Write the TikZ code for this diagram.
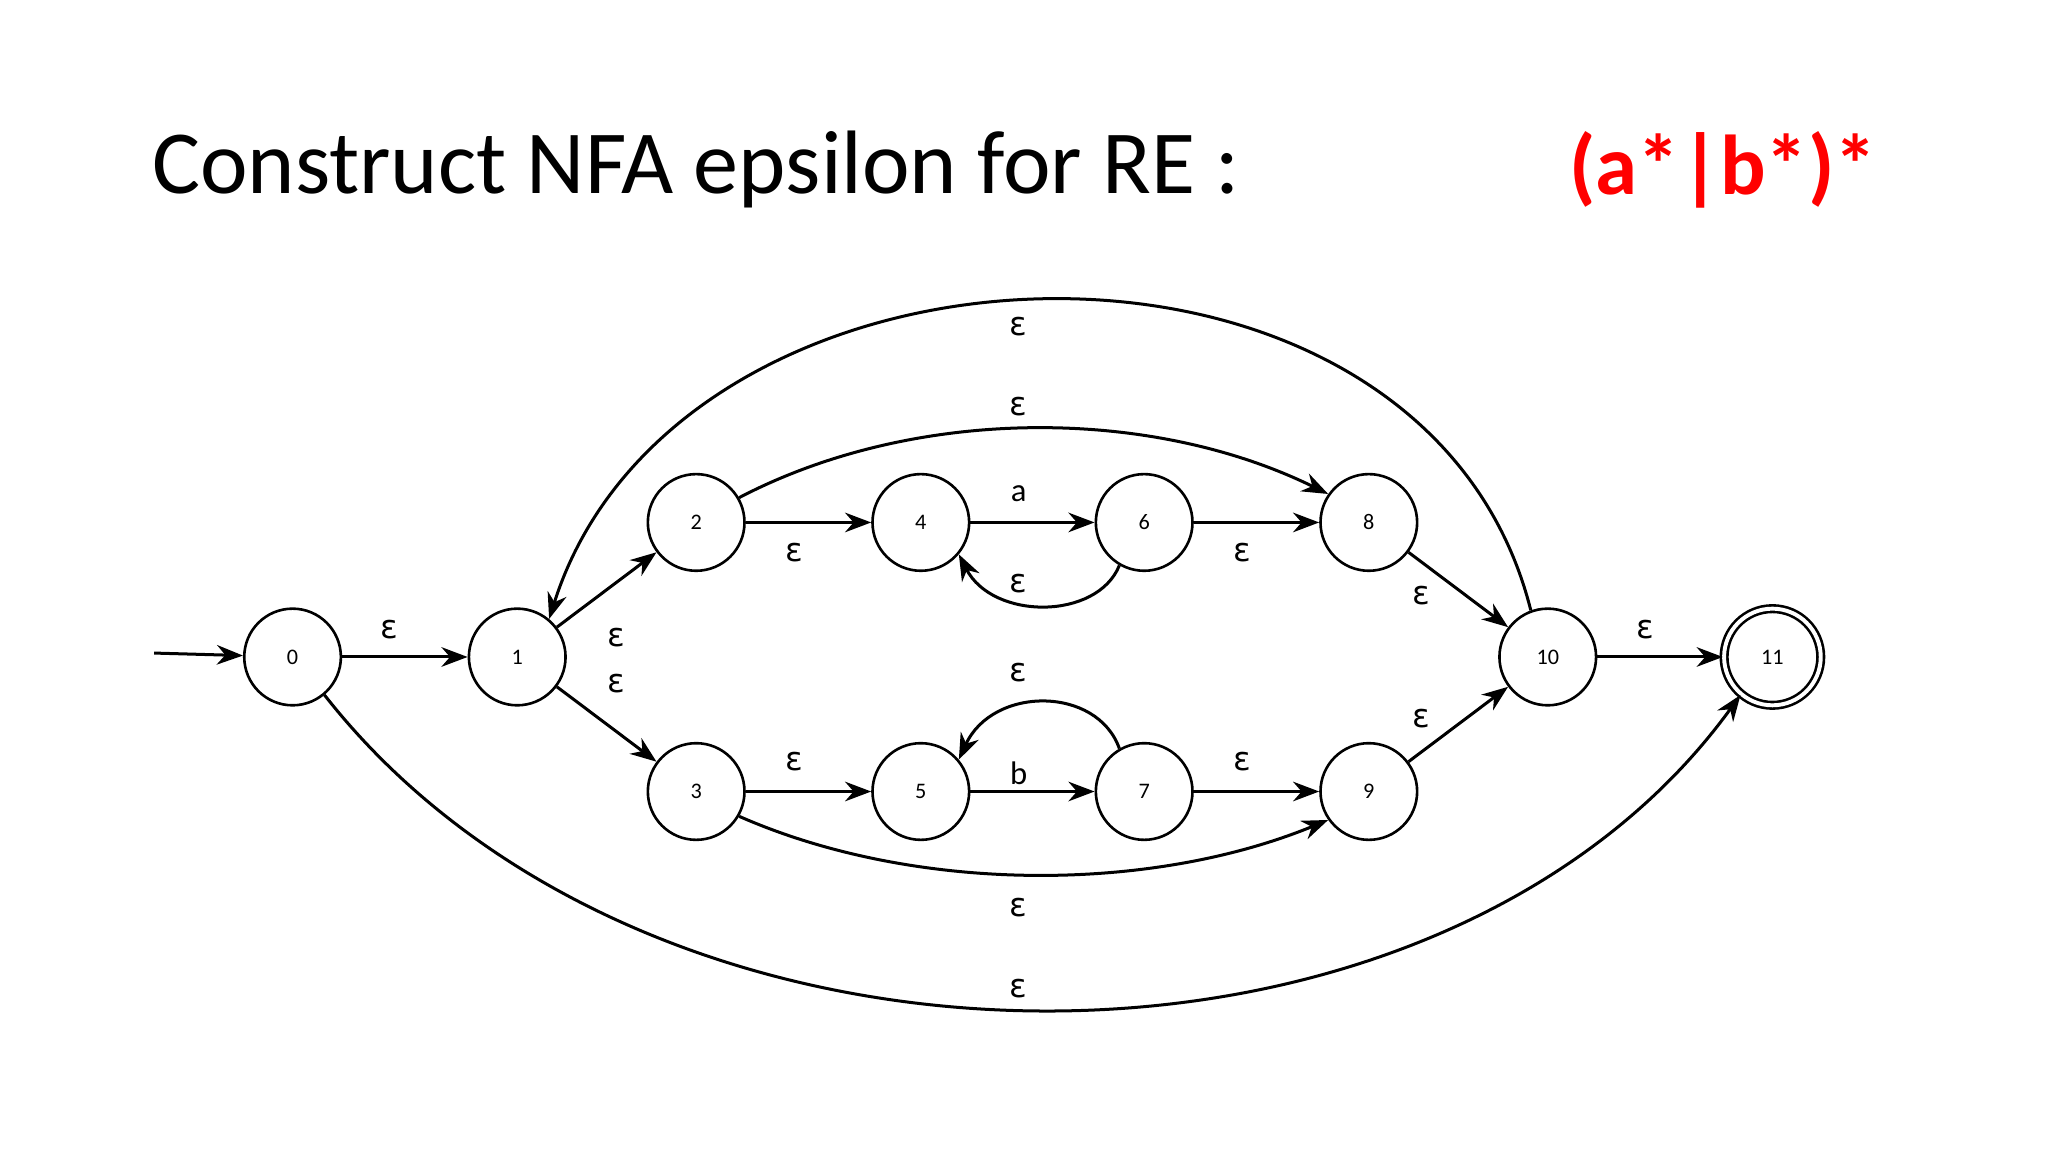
\documentclass[tikz,border=0pt]{standalone}
\usepackage{fontspec}
\setmainfont{Carlito}
\newfontfamily\epsf{DejaVu Sans}
\usetikzlibrary{arrows.meta}
\begin{document}
\begin{tikzpicture}[x=1pt,y=-1pt,
  st/.style={circle,draw,line width=2pt,minimum size=74pt,inner sep=0pt,font=\fontsize{17}{17}\selectfont},
  ed/.style={line width=2.3pt,-{Stealth[length=20pt,width=15pt]}},
  lb/.style={font=\fontsize{25}{25}\selectfont}]
\useasboundingbox (0,0) rectangle (1568,882);
\node[anchor=west,font=\fontsize{69}{69}\selectfont] (title) at (113,130) {Construct NFA epsilon for RE :};
\node[anchor=west,font=\bfseries\fontsize{65}{65}\selectfont,text=red] (re) at (1198,130) {(a*|b*)*};
\node[st] (n0) at (224,503) {0};
\node[st] (n1) at (396,503) {1};
\node[st] (n2) at (533,400) {2};
\node[st] (n4) at (705,400) {4};
\node[st] (n6) at (876,400) {6};
\node[st] (n8) at (1048,400) {8};
\node[st] (n3) at (533,606) {3};
\node[st] (n5) at (705,606) {5};
\node[st] (n7) at (876,606) {7};
\node[st] (n9) at (1048,606) {9};
\node[st] (n10) at (1185,503) {10};
\node[st,double,double distance=3pt] (n11) at (1357,503) {11};
\coordinate (s) at (118,500);
\draw[ed] (s) -- (n0);
\draw[ed] (n0) -- (n1);
\draw[ed] (n1) -- (n2);
\draw[ed] (n1) -- (n3);
\draw[ed] (n2) -- (n4);
\draw[ed] (n4) -- (n6);
\draw[ed] (n6) -- (n8);
\draw[ed] (n3) -- (n5);
\draw[ed] (n5) -- (n7);
\draw[ed] (n7) -- (n9);
\draw[ed] (n8) -- (n10);
\draw[ed] (n9) -- (n10);
\draw[ed] (n10) -- (n11);
\draw[ed] (n6.-120) .. controls (840,475) and (760,475) .. (n4.-40);
\draw[ed] (n7.120) .. controls (840,525) and (760,525) .. (n5.40);
\draw[ed] (n2.30) .. controls (700,311) and (880,311) .. (n8.145);
\draw[ed] (n3.-30) .. controls (700,684) and (880,684) .. (n9.-145);
\draw[ed] (n10.110) .. controls (1090,140) and (520,160) .. (n1.50);
\draw[ed] (n0.-50) .. controls (500,853) and (1100,853) .. (n11.-130);
\node[lb] (l01) at (298,482) {\epsf ɛ};
\node[lb] (l12) at (472,488) {\epsf ɛ};
\node[lb] (l13) at (472,523) {\epsf ɛ};
\node[lb] (l24) at (608,423) {\epsf ɛ};
\node[lb] (l46) at (780,378) {a};
\node[lb] (l64) at (780,447) {\epsf ɛ};
\node[lb] (l68) at (951,423) {\epsf ɛ};
\node[lb] (l28) at (780,311) {\epsf ɛ};
\node[lb] (l810) at (1088,456) {\epsf ɛ};
\node[lb] (l35) at (608,583) {\epsf ɛ};
\node[lb] (l57) at (780,592) {b};
\node[lb] (l75) at (780,515) {\epsf ɛ};
\node[lb] (l79) at (951,583) {\epsf ɛ};
\node[lb] (l39) at (780,695) {\epsf ɛ};
\node[lb] (l910) at (1088,550) {\epsf ɛ};
\node[lb] (l101) at (780,250) {\epsf ɛ};
\node[lb] (l011) at (780,757) {\epsf ɛ};
\node[lb] (l1011) at (1260,482) {\epsf ɛ};
\end{tikzpicture}
\end{document}
